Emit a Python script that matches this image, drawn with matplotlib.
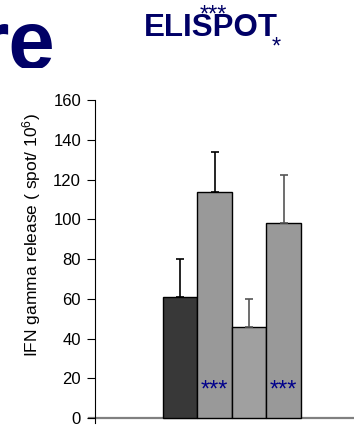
import matplotlib
matplotlib.use("Agg")
import matplotlib.pyplot as plt

# bar data
groups = ["g1", "g2", "g3", "g4"]
means = [61, 113.5, 46, 98]
errs = [19, 20.5, 14, 24.5]
bar_colors = ["#383838", "#999999", "#a0a0a0", "#999999"]
err_colors = ["#000000", "#000000", "#555555", "#555555"]
star_labels = ["", "***", "", "***"]
yticks = [0, 20, 40, 60, 80, 100, 120, 140, 160]

plt.rcParams['font.family'] = ['Liberation Sans', 'DejaVu Sans']
plt.rcParams['mathtext.fontset'] = 'custom'
plt.rcParams['mathtext.rm'] = 'Liberation Sans'
plt.rcParams['mathtext.it'] = 'Liberation Sans'

W, H = 354, 425
navy = "#000066"
fig = plt.figure(figsize=(W / 100, H / 100), dpi=100)

# top strip in pixel coords (cropped slide title)
top = fig.add_axes([0, (H - 68) / H, 1, 68 / H])
top.set_xlim(0, W)
top.set_ylim(68, 0)
top.axis("off")
top.text(55, 69, "re", fontsize=60, fontweight="bold", color=navy,
         ha="right", va="baseline", clip_on=True)

fig.text(211 / W, 1 - 36 / H, "ELISPOT", fontsize=22.5, fontweight="bold",
         color=navy, ha="center", va="baseline")
fig.text(213 / W, 1 - 22 / H, "***", fontsize=17, color=navy,
         ha="center", va="baseline")
fig.text(276 / W, 1 - 53.5 / H, "*", fontsize=17, color=navy,
         ha="center", va="baseline")

# main chart
ax = fig.add_axes([95 / W, 2 / H, 1 - 95 / W, (423 - 100) / H])
x = list(range(len(groups)))
ax.bar(x, means, width=1.0, color=bar_colors, edgecolor="black", linewidth=1)
for xi, m, e, c in zip(x, means, errs, err_colors):
    ax.errorbar(xi, m, yerr=[[0], [e]], fmt="none", ecolor=c,
                elinewidth=1.2, capsize=3.2, capthick=1.2)
for xi, s in zip(x, star_labels):
    if s:
        ax.text(xi, 11, s, fontsize=17, color="#00008b", ha="center",
                va="baseline")

ax.set_xlim(-2.47, 5.04)
ax.set_ylim(-2.5, 160)
ax.set_yticks(yticks)
ax.tick_params(axis="y", length=5.5, width=0.8, pad=4.5, labelsize=12)
ax.set_xticks([])
for s in ["top", "right", "bottom"]:
    ax.spines[s].set_visible(False)
ax.spines["left"].set_linewidth(0.8)
ax.axhline(0, xmin=-0.025, xmax=1, color="#808080", linewidth=1.6,
           clip_on=False, zorder=0.5)

fig.text(32 / W, 1 - 113 / H, "IFN gamma release ( spot/ 10$^{6}$)",
         rotation=90, fontsize=12.5, ha="center", va="top")

fig.savefig("out.png", dpi=100)
